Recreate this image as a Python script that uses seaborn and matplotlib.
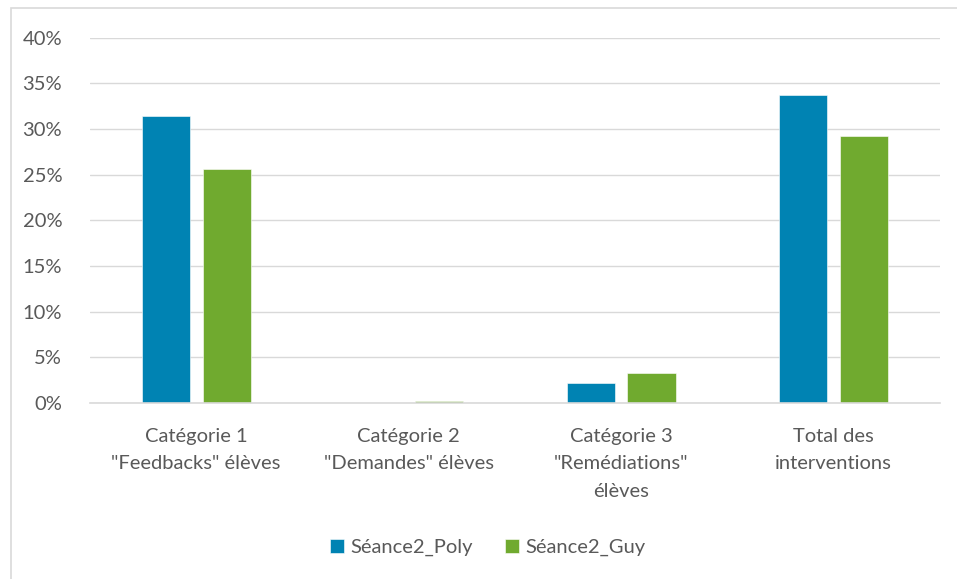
import pandas as pd
import matplotlib.pyplot as plt
import matplotlib.ticker as mtick
import seaborn as sns

# Data
categories = ['Catégorie 1\n"Feedbacks" élèves',
              'Catégorie 2\n"Demandes" élèves',
              'Catégorie 3\n"Remédiations"\nélèves',
              'Total des\ninterventions']
poly = [0.314, 0.0, 0.022, 0.337]
guy = [0.256, 0.002, 0.033, 0.292]
series = ['Séance2_Poly', 'Séance2_Guy']
colors = ['#0083B3', '#70AA2F']

df = pd.DataFrame({
    'categorie': categories * 2,
    'valeur': poly + guy,
    'serie': [series[0]] * 4 + [series[1]] * 4,
})

sns.set_style('white')
plt.rcParams['font.family'] = ['Lato', 'DejaVu Sans']
text_col = '#595959'

fig = plt.figure(figsize=(9.57, 5.79), dpi=100)
ax = fig.add_axes([0.094, 0.304, 0.888, 0.631])

sns.barplot(data=df, x='categorie', y='valeur', hue='serie', palette=colors,
            saturation=1, width=0.574, gap=0.21, edgecolor='white', linewidth=0.4,
            ax=ax)

ax.set_ylim(0, 0.40)
ax.yaxis.set_major_locator(mtick.MultipleLocator(0.05))
ax.yaxis.set_major_formatter(mtick.PercentFormatter(1.0, decimals=0))
ax.grid(axis='y', color='#D9D9D9', linewidth=1)
ax.set_axisbelow(True)
for s in ['top', 'right', 'left']:
    ax.spines[s].set_visible(False)
ax.spines['bottom'].set_color('#D9D9D9')
ax.spines['bottom'].set_linewidth(1.2)
ax.tick_params(axis='both', length=0, labelsize=14.5, colors=text_col)
ax.tick_params(axis='x', pad=18)
ax.tick_params(axis='y', pad=20)
for lbl in ax.get_xticklabels():
    lbl.set_linespacing(1.75)
ax.set_xlabel('')
ax.set_ylabel('')

ax.legend(loc='center', bbox_to_anchor=(0.468, -0.395), ncol=2, frameon=False,
          fontsize=14.5, handlelength=0.7, handleheight=0.7, handletextpad=0.3,
          columnspacing=1.6, labelcolor=text_col)

# chart border
fig.patches.append(plt.Rectangle((0.011, -0.01), 1.5, 0.996, transform=fig.transFigure,
                                 fill=False, edgecolor='#D9D9D9', linewidth=1.2))

fig.savefig('out.png', dpi=100)
